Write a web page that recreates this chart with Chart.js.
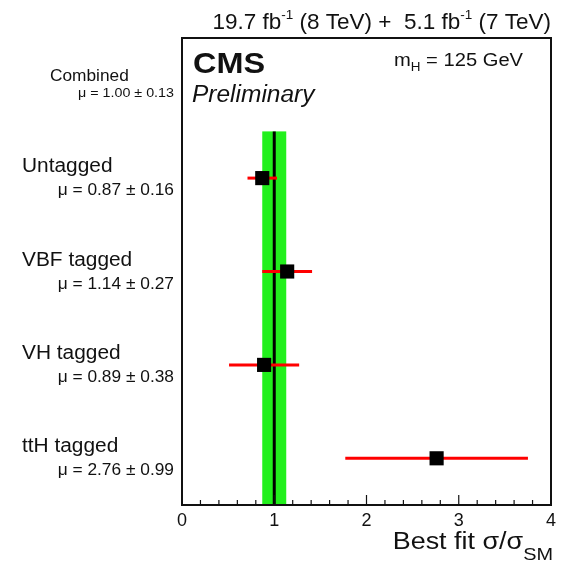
<!DOCTYPE html>
<html>
<head>
<meta charset="utf-8">
<script src="https://cdn.jsdelivr.net/npm/chart.js@4"></script>
<style>
  body { margin: 0; background: #fff; }
</style>
</head>
<body>
<canvas id="myChart" width="564" height="564"></canvas>
<script>
// signal strength per event category
const combinedMu = 1.00, combinedErr = 0.13;
const categories = ['Untagged', 'VBF tagged', 'VH tagged', 'ttH tagged'];
const mu = [0.87, 1.14, 0.89, 2.76];
const muErr = [0.16, 0.27, 0.38, 0.99];
const xTicks = [0, 1, 2, 3, 4];

const rows = ['Combined'].concat(categories);
const FONT = '"Liberation Sans", Arial, sans-serif';
const ink = '#111';

function fmt(v) { return v.toFixed(2) }

// draw a line of text made of pieces (for sub/superscripts), sx stretches it sideways
function drawRuns(ctx, runs, x, y, align, sx) {
    sx = sx || 1;
    let w = 0;
    runs.forEach(r => {
        ctx.font = (r.style || '') + ' ' + r.size + 'px ' + FONT;
        r.w = ctx.measureText(r.t).width;
        w += r.w;
    });
    const start = align === 'right' ? x - w * sx : x;
    ctx.save();
    ctx.translate(start, y);
    ctx.scale(sx, 1);
    ctx.textAlign = 'left';
    ctx.textBaseline = 'alphabetic';
    let cx = 0;
    runs.forEach(r => {
        ctx.font = (r.style || '') + ' ' + r.size + 'px ' + FONT;
        ctx.fillText(r.t, cx, r.dy || 0);
        cx += r.w;
    });
    ctx.restore();
}

const cmsPlot = {
    id: 'cmsPlot',
    beforeDatasetsDraw(chart) {
        const ctx = chart.ctx, xs = chart.scales.x, ys = chart.scales.y;
        const area = chart.chartArea;
        const top = (ys.getPixelForValue(0) + ys.getPixelForValue(1)) / 2;
        ctx.save();
        // combined band
        const b0 = xs.getPixelForValue(combinedMu - combinedErr);
        const b1 = xs.getPixelForValue(combinedMu + combinedErr);
        ctx.fillStyle = '#22f01c';
        ctx.fillRect(b0, top, b1 - b0, area.bottom - top);
        // combined central value
        ctx.strokeStyle = '#000';
        ctx.lineWidth = 3;
        ctx.beginPath();
        ctx.moveTo(xs.getPixelForValue(combinedMu), top);
        ctx.lineTo(xs.getPixelForValue(combinedMu), area.bottom);
        ctx.stroke();
        // error bars
        ctx.strokeStyle = '#ff0000';
        ctx.lineWidth = 3;
        for (let i = 0; i < categories.length; i++) {
            const y = ys.getPixelForValue(i + 1);
            ctx.beginPath();
            ctx.moveTo(xs.getPixelForValue(mu[i] - muErr[i]), y);
            ctx.lineTo(xs.getPixelForValue(mu[i] + muErr[i]), y);
            ctx.stroke();
        }
        ctx.restore();
    },
    afterDraw(chart) {
        const ctx = chart.ctx, xs = chart.scales.x, ys = chart.scales.y;
        const area = chart.chartArea;
        ctx.save();
        // frame
        ctx.strokeStyle = '#111';
        ctx.lineWidth = 2;
        ctx.strokeRect(area.left, area.top, area.right - area.left, area.bottom - area.top);
        // ticks pointing into the frame
        ctx.lineWidth = 1.2;
        xs.ticks.forEach(t => {
            const major = Math.abs(t.value - Math.round(t.value)) < 1e-6;
            const px = xs.getPixelForValue(t.value);
            ctx.beginPath();
            ctx.moveTo(px, area.bottom);
            ctx.lineTo(px, area.bottom - (major ? 10 : 5));
            ctx.stroke();
        });

        ctx.fillStyle = ink;
        // row labels
        rows.forEach((name, i) => {
            const y = ys.getPixelForValue(i);
            const m = i === 0 ? combinedMu : mu[i - 1];
            const e = i === 0 ? combinedErr : muErr[i - 1];
            const txt = '\u03bc = ' + fmt(m) + ' \u00b1 ' + fmt(e);
            if (i === 0) {
                drawRuns(ctx, [{t: name, size: 16}], 50, y - 4, 'left', 1.08);
                drawRuns(ctx, [{t: txt, size: 13}], 174, y + 12, 'right', 1.1);
            } else {
                drawRuns(ctx, [{t: name, size: 19.5}], 22, y - 6, 'left', 1.07);
                drawRuns(ctx, [{t: txt, size: 16.5}], 174, y + 17, 'right', 1.05);
            }
        });

        // luminosity header
        drawRuns(ctx, [
            {t: '19.7 fb', size: 22.5}, {t: '-1', size: 13.5, dy: -10},
            {t: ' (8 TeV) +  5.1 fb', size: 22.5}, {t: '-1', size: 13.5, dy: -10},
            {t: ' (7 TeV)', size: 22.5}
        ], 551, 29, 'right');

        drawRuns(ctx, [{t: 'CMS', size: 30, style: 'bold'}], 193, 73, 'left', 1.08);
        drawRuns(ctx, [{t: 'Preliminary', size: 23, style: 'italic'}], 192, 102, 'left', 1.065);
        drawRuns(ctx, [
            {t: 'm', size: 18}, {t: 'H', size: 12, dy: 5}, {t: ' = 125 GeV', size: 18}
        ], 394, 66, 'left', 1.12);

        // x axis title
        drawRuns(ctx, [
            {t: 'Best fit \u03c3/\u03c3', size: 23}, {t: 'SM', size: 17, dy: 11}
        ], 553, 549, 'right', 1.17);
        ctx.restore();
    }
};

new Chart(document.getElementById('myChart'), {
    type: 'scatter',
    data: {
        datasets: [{
            data: categories.map((c, i) => ({x: mu[i], y: c})),
            pointStyle: 'rect',
            pointRadius: 10,
            pointHoverRadius: 10,
            backgroundColor: '#000',
            borderWidth: 0
        }]
    },
    options: {
        responsive: false,
        animation: false,
        layout: { padding: { left: 182, right: 13, top: 38, bottom: 0 } },
        plugins: { legend: { display: false }, tooltip: { enabled: false } },
        scales: {
            x: {
                type: 'linear',
                min: xTicks[0],
                max: xTicks[xTicks.length - 1],
                grid: { display: false, drawTicks: false },
                border: { display: false },
                afterFit: scale => { scale.height = 59 },
                ticks: {
                    stepSize: 0.2,
                    autoSkip: false,
                    maxRotation: 0,
                    padding: 5,
                    color: ink,
                    font: { family: FONT, size: 18 },
                    callback: v => {
                        const r = Math.round(v);
                        return Math.abs(v - r) < 1e-6 && xTicks.includes(r) ? String(r) : '';
                    }
                }
            },
            y: {
                type: 'category',
                labels: rows,
                offset: true,
                display: false
            }
        }
    },
    plugins: [cmsPlot]
});
</script>
</body>
</html>
